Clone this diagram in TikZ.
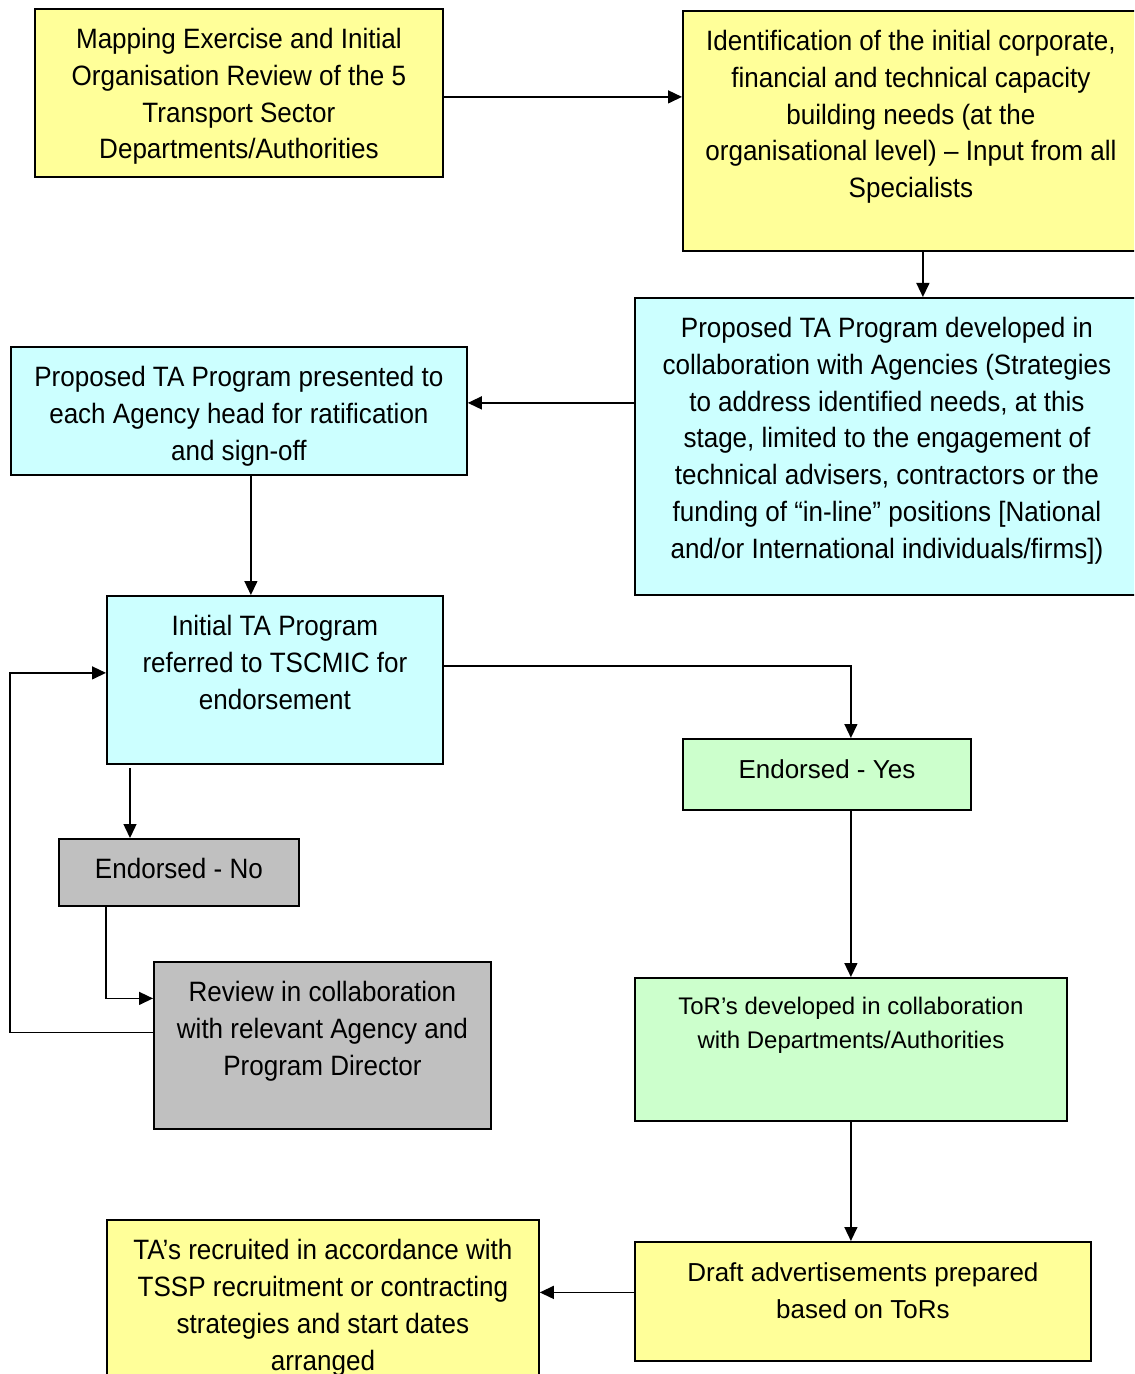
\documentclass[tikz,border=0pt]{standalone}
\usepackage{fontspec}
\setmainfont{Liberation Sans}[FakeStretch=0.93]
\newfontfamily\widefont{Liberation Sans}
\usetikzlibrary{calc,arrows.meta}
\definecolor{paleyellow}{HTML}{FFFF99}
\definecolor{palecyan}{HTML}{CCFFFF}
\definecolor{palegreen}{HTML}{CCFFCC}
\definecolor{midgrey}{HTML}{C0C0C0}
\newcommand{\boxtext}[3]{\parbox[t][#2][t]{#1}{\centering\rule{0pt}{20pt}#3}}
\newcommand{\torbox}[3]{\parbox[t][#2][t]{#1}{\centering\rule{0pt}{18.5pt}#3}}

\begin{document}
\begin{tikzpicture}[x=0.5pt,y=-0.5pt,
  stage/.style={draw,line width=0.9pt,inner sep=0pt,anchor=north west,
    font=\fontsize{14}{18.35}\selectfont},
  widestage/.style={stage,font=\widefont\fontsize{13}{18.35}\selectfont},
  flow/.style={-{Triangle[length=7pt,width=6.5pt]},line width=0.7pt}]
\useasboundingbox (0,0) rectangle (1134,1374);
\clip (0,0) rectangle (1134,1374);
% top row
\node[stage,fill=paleyellow] (map) at (34,8) {\boxtext{204pt}{84pt}{Mapping Exercise and Initial\\Organisation Review of the 5\\Transport Sector\\Departments/Authorities}};
\node[stage,fill=paleyellow] (ident) at (682,10) {\boxtext{228pt}{120pt}{Identification of the initial corporate,\\financial and technical capacity\\building needs (at the\\organisational level) – Input from all\\Specialists}};
\node[stage,fill=palecyan] (dev) at (634,297) {\boxtext{252pt}{148.5pt}{Proposed TA Program developed in\\collaboration with Agencies (Strategies\\to address identified needs, at this\\stage, limited to the engagement of\\technical advisers, contractors or the\\funding of “in-line” positions [National\\and/or International individuals/firms])}};
\node[stage,fill=palecyan] (present) at (10,346) {\boxtext{228pt}{64pt}{Proposed TA Program presented to\\each Agency head for ratification\\and sign-off}};
\node[stage,fill=palecyan] (initial) at (106,595) {\boxtext{168pt}{84pt}{Initial TA Program\\referred to TSCMIC for\\endorsement}};
% endorsement outcomes
\node[widestage,fill=palegreen] (yes) at (682,738) {\boxtext{144pt}{35.5pt}{Endorsed - Yes}};
\node[stage,fill=midgrey] (no) at (58,838) {\boxtext{120pt}{33.5pt}{Endorsed - No}};
\node[stage,fill=midgrey] (review) at (153,961) {\boxtext{168.5pt}{83.5pt}{Review in collaboration\\with relevant Agency and\\Program Director}};
\node[widestage,fill=palegreen,font=\widefont\fontsize{12}{17}\selectfont] (tor) at (634,977) {\torbox{216pt}{71.5pt}{ToR’s developed in collaboration\\with Departments/Authorities}};
\node[widestage,fill=paleyellow] (draft) at (634,1241) {\boxtext{228pt}{59.5pt}{Draft advertisements prepared\\based on ToRs}};
\node[stage,fill=paleyellow] (ta) at (106,1219) {\boxtext{216pt}{85pt}{TA’s recruited in accordance with\\TSSP recruitment or contracting\\strategies and start dates\\arranged}};

\draw[flow] ($(map.east)+(0,4)$) -- ($(map.east -| ident.west)+(0,4)$);
\draw[flow] ($(ident.south)+(12,0)$) -- ($(ident.south |- dev.north)+(12,0)$);
\draw[flow] ($(dev.west |- present.east)+(0,-8)$) -- ($(present.east)+(0,-8)$);
\draw[flow] ($(present.south)+(12,0)$) -- ($(present.south |- initial.north)+(12,0)$);
\draw[flow] ($(initial.east)+(0,-14)$) -| ($(yes.north)+(24,0)$);
\draw[flow] (tor.north |- yes.south) -- (tor.north);
\draw[flow] (tor.south) -- (tor.south |- draft.north);
\draw[flow] ($(draft.west)+(0,-9)$) -- ($(draft.west -| ta.east)+(0,-9)$);
% not endorsed: review and refer again
\draw[flow] ($(initial.south west)+(24,3)$) -- ($(initial.south west |- no.north)+(24,0)$);
\draw[flow] ($(no.south west)+(48,0)$) |- ($(review.west)+(0,-47)$);
\draw[flow] ($(review.west)+(0,-13)$) -| ($(initial.west -| present.west)+(0,-7)$) -- ($(initial.west)+(0,-7)$);
\end{tikzpicture}
\end{document}
